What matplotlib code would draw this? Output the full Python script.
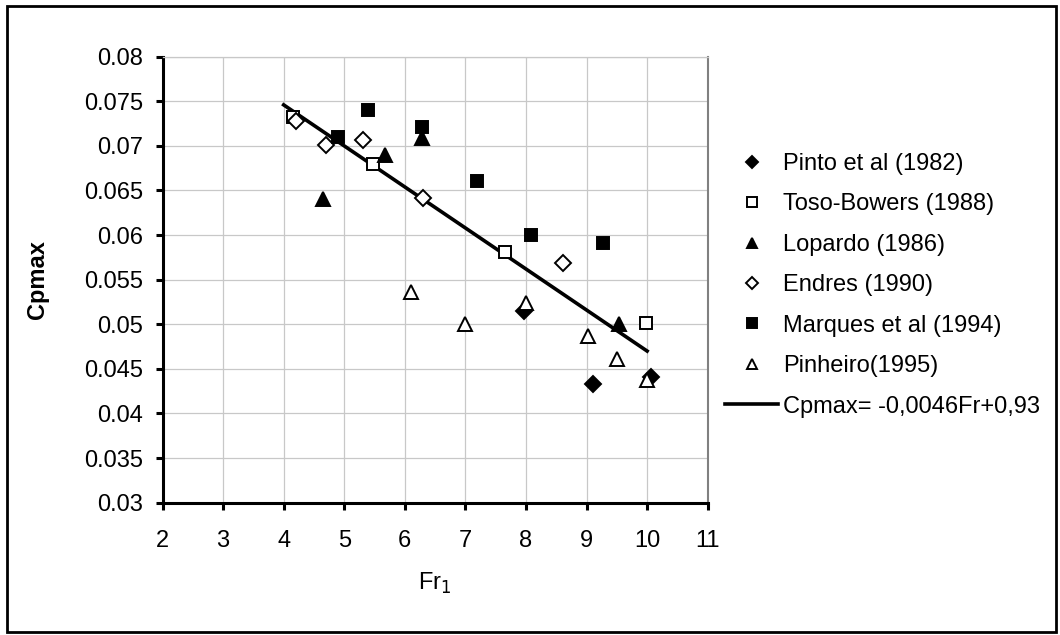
import matplotlib
matplotlib.use("Agg")
import matplotlib.pyplot as plt
from matplotlib.patches import Rectangle

plt.rcParams['font.family'] = ['Liberation Sans', 'DejaVu Sans']

# ---- data ----
pinto_x = [7.97, 9.10, 10.06]
pinto_y = [0.0515, 0.0433, 0.0441]
toso_x = [4.16, 5.47, 7.65, 9.98]
toso_y = [0.0732, 0.0680, 0.0581, 0.0501]
lopardo_x = [4.65, 5.68, 6.29, 9.53]
lopardo_y = [0.0640, 0.0690, 0.0709, 0.0500]
endres_x = [4.20, 4.70, 5.31, 6.30, 8.61]
endres_y = [0.0728, 0.0701, 0.0707, 0.0642, 0.0569]
marques_x = [4.89, 5.39, 6.28, 7.19, 8.08, 9.27]
marques_y = [0.0710, 0.0740, 0.0721, 0.0661, 0.0600, 0.0591]
pinheiro_x = [6.10, 6.99, 8.00, 9.02, 9.50, 9.99]
pinheiro_y = [0.0536, 0.0500, 0.05235, 0.0487, 0.0461, 0.0437]
fit_x = [4.0, 10.0]
fit_y = [0.0746, 0.0470]

series_labels = ["Pinto et al (1982)", "Toso-Bowers (1988)", "Lopardo (1986)",
                 "Endres (1990)", "Marques et al (1994)", "Pinheiro(1995)"]
fit_label = "Cpmax= -0,0046Fr+0,93"

xticks = [2, 3, 4, 5, 6, 7, 8, 9, 10, 11]
yticks = [0.03, 0.035, 0.04, 0.045, 0.05, 0.055, 0.06, 0.065, 0.07, 0.075, 0.08]
ytick_labels = ["0.03", "0.035", "0.04", "0.045", "0.05", "0.055", "0.06",
                "0.065", "0.07", "0.075", "0.08"]

W, H = 1060, 635
DPI = 100
fig = plt.figure(figsize=(W / DPI, H / DPI), dpi=DPI)
fs = 17

# outer frame
fig.patches.append(Rectangle((7 / W, 1 - 632 / H), (1056 - 7) / W, (632 - 6) / H,
                             transform=fig.transFigure, fill=False,
                             edgecolor='black', linewidth=2.0))

L, R, B, T = 162.5, 707.7, 502.7, 56.7
ax = fig.add_axes([L / W, 1 - B / H, (R - L) / W, (B - T) / H])

hl, = ax.plot(fit_x, fit_y, color='black', lw=2.6, zorder=3)

ms = 9
mew = 1.4
h1, = ax.plot(pinto_x, pinto_y, 'D', ms=8, mfc='black', mec='black', mew=mew, ls='none', zorder=4)
h2, = ax.plot(toso_x, toso_y, 's', ms=ms, mfc='white', mec='black', mew=mew, ls='none', zorder=4)
h3, = ax.plot(lopardo_x, lopardo_y, '^', ms=ms + 1, mfc='black', mec='black', mew=mew, ls='none', zorder=4)
h4, = ax.plot(endres_x, endres_y, 'D', ms=8, mfc='white', mec='black', mew=mew, ls='none', zorder=4)
h5, = ax.plot(marques_x, marques_y, 's', ms=ms, mfc='black', mec='black', mew=mew, ls='none', zorder=4)
h6, = ax.plot(pinheiro_x, pinheiro_y, '^', ms=ms + 1, mfc='white', mec='black', mew=mew, ls='none', zorder=4)

ax.set_xlim(2, 11)
ax.set_ylim(0.03, 0.08)
ax.set_xticks(xticks)
ax.set_yticks(yticks)
ax.set_yticklabels(ytick_labels)
ax.grid(True, color='#c8c8c8', lw=0.9)
ax.set_axisbelow(True)

for s in ['left', 'bottom']:
    ax.spines[s].set_linewidth(2.2)
    ax.spines[s].set_color('black')
ax.spines['right'].set_color('#808080')
ax.spines['right'].set_linewidth(1.5)
ax.spines['top'].set_color('#c8c8c8')
ax.spines['top'].set_linewidth(0.9)

ax.tick_params(axis='both', direction='out', length=5, width=2.2, labelsize=fs, colors='black')
ax.tick_params(axis='y', pad=9)
ax.tick_params(axis='x', pad=15)

fig.text(38 / W, 1 - 280 / H, "Cpmax", rotation=90, fontsize=fs, fontweight='bold',
         ha='center', va='center')
fig.text(435 / W, 1 - 583 / H, "Fr$_1$", fontsize=fs, ha='center', va='center')

handles = [h1, h2, h3, h4, h5, h6, hl]
labels = series_labels + [fit_label]
leg = fig.legend(handles, labels, loc='upper left',
                 bbox_to_anchor=(725 / W, 1 - 153 / H), frameon=False,
                 fontsize=fs, handlelength=2.25, handletextpad=0.2,
                 labelspacing=0.78, markerscale=0.75, borderpad=0, borderaxespad=0)

fig.savefig("out.png", dpi=DPI)
